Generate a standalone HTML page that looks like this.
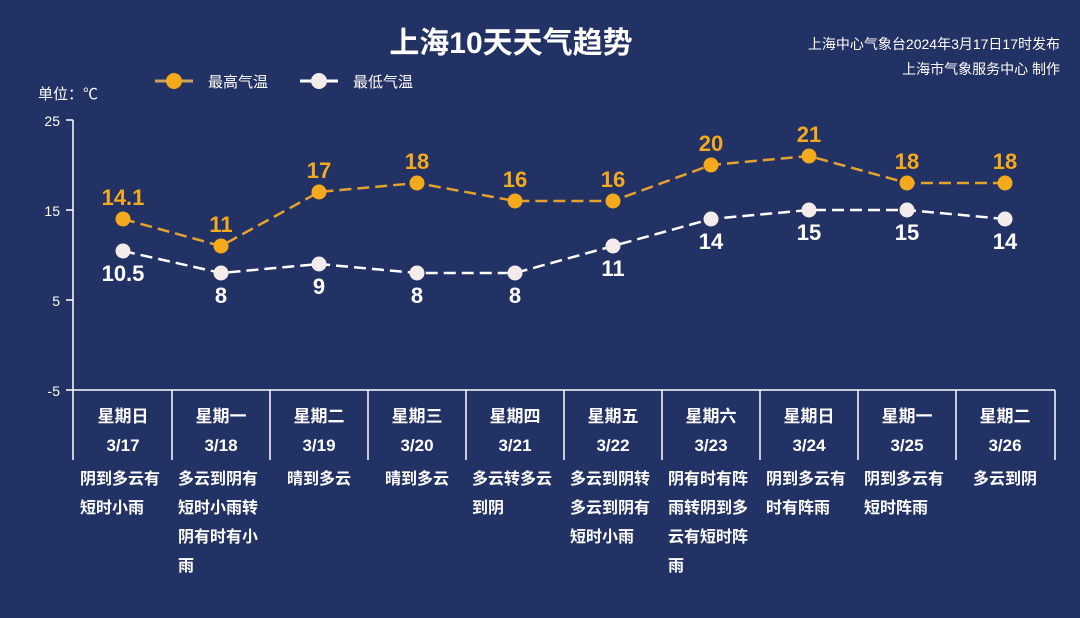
<!DOCTYPE html>
<html><head><meta charset="utf-8"><style>
body{margin:0;width:1080px;height:613px;background:#223265;overflow:hidden;font-family:"Liberation Sans","Noto Sans CJK SC",sans-serif}
svg text{font-family:"Liberation Sans","Noto Sans CJK SC",sans-serif}
</style></head><body>
<svg width="1080" height="613" xmlns="http://www.w3.org/2000/svg">
<rect width="1080" height="613" fill="#223265"/>
<text x="511" y="53" fill="#fff" font-size="30" font-weight="bold" text-anchor="middle">上海10天天气趋势</text>
<text x="1060" y="49" fill="#fff" font-size="14" text-anchor="end">上海中心气象台2024年3月17日17时发布</text>
<text x="1060" y="74" fill="#fff" font-size="14" text-anchor="end">上海市气象服务中心 制作</text>
<line x1="155" y1="81" x2="193" y2="81" stroke="#c9a45a" stroke-width="3"/><circle cx="174" cy="81" r="8" fill="#f5a91c"/>
<text x="208" y="87" fill="#fff" font-size="15">最高气温</text>
<line x1="300" y1="81" x2="338" y2="81" stroke="#fff" stroke-width="3"/><circle cx="319" cy="81" r="8" fill="#f3ecea"/>
<text x="353" y="87" fill="#fff" font-size="15">最低气温</text>
<text x="38" y="99" fill="#fff" font-size="15">单位：℃</text>
<g fill="#fff" font-size="14" text-anchor="end">
<text x="60" y="126">25</text><text x="60" y="216">15</text><text x="60" y="306">5</text><text x="60" y="396">-5</text></g>
<g stroke="#fff" stroke-width="1.5">
<line x1="73" y1="120" x2="73" y2="460"/>
<line x1="66" y1="120" x2="73" y2="120"/><line x1="66" y1="210" x2="73" y2="210"/><line x1="66" y1="300" x2="73" y2="300"/><line x1="66" y1="390" x2="1055" y2="390"/>
<line x1="172" y1="390" x2="172" y2="460"/><line x1="270" y1="390" x2="270" y2="460"/><line x1="368" y1="390" x2="368" y2="460"/><line x1="466" y1="390" x2="466" y2="460"/><line x1="564" y1="390" x2="564" y2="460"/><line x1="662" y1="390" x2="662" y2="460"/><line x1="760" y1="390" x2="760" y2="460"/><line x1="858" y1="390" x2="858" y2="460"/><line x1="956" y1="390" x2="956" y2="460"/><line x1="1055" y1="390" x2="1055" y2="460"/>
</g>
<polyline points="123,219 221,246 319,192 417,183 515,201 613,201 711,165 809,156 907,183 1005,183" fill="none" stroke="#e6a22e" stroke-width="2.5" stroke-dasharray="12,6"/>
<polyline points="123,251 221,273 319,264 417,273 515,273 613,246 711,219 809,210 907,210 1005,219" fill="none" stroke="#fff" stroke-width="2.5" stroke-dasharray="12,6"/>
<g fill="#f5a91c"><circle cx="123" cy="219" r="7.5"/><circle cx="221" cy="246" r="7.5"/><circle cx="319" cy="192" r="7.5"/><circle cx="417" cy="183" r="7.5"/><circle cx="515" cy="201" r="7.5"/><circle cx="613" cy="201" r="7.5"/><circle cx="711" cy="165" r="7.5"/><circle cx="809" cy="156" r="7.5"/><circle cx="907" cy="183" r="7.5"/><circle cx="1005" cy="183" r="7.5"/></g>
<g fill="#f3ecea"><circle cx="123" cy="251" r="7.5"/><circle cx="221" cy="273" r="7.5"/><circle cx="319" cy="264" r="7.5"/><circle cx="417" cy="273" r="7.5"/><circle cx="515" cy="273" r="7.5"/><circle cx="613" cy="246" r="7.5"/><circle cx="711" cy="219" r="7.5"/><circle cx="809" cy="210" r="7.5"/><circle cx="907" cy="210" r="7.5"/><circle cx="1005" cy="219" r="7.5"/></g>
<g fill="#f5a91c" font-size="22" font-weight="bold" text-anchor="middle">
<text x="123" y="205">14.1</text><text x="221" y="232">11</text><text x="319" y="178">17</text><text x="417" y="169">18</text><text x="515" y="187">16</text><text x="613" y="187">16</text><text x="711" y="151">20</text><text x="809" y="142">21</text><text x="907" y="169">18</text><text x="1005" y="169">18</text></g>
<g fill="#fff" font-size="22" font-weight="bold" text-anchor="middle">
<text x="123" y="281">10.5</text><text x="221" y="303">8</text><text x="319" y="294">9</text><text x="417" y="303">8</text><text x="515" y="303">8</text><text x="613" y="276">11</text><text x="711" y="249">14</text><text x="809" y="240">15</text><text x="907" y="240">15</text><text x="1005" y="249">14</text></g>
<g fill="#fff" font-size="17" font-weight="bold" text-anchor="middle">
<text x="123" y="422">星期日</text><text x="221" y="422">星期一</text><text x="319" y="422">星期二</text><text x="417" y="422">星期三</text><text x="515" y="422">星期四</text><text x="613" y="422">星期五</text><text x="711" y="422">星期六</text><text x="809" y="422">星期日</text><text x="907" y="422">星期一</text><text x="1005" y="422">星期二</text>
<text x="123" y="451">3/17</text><text x="221" y="451">3/18</text><text x="319" y="451">3/19</text><text x="417" y="451">3/20</text><text x="515" y="451">3/21</text><text x="613" y="451">3/22</text><text x="711" y="451">3/23</text><text x="809" y="451">3/24</text><text x="907" y="451">3/25</text><text x="1005" y="451">3/26</text></g>
<g fill="#fff" font-size="16" font-weight="bold">
<text x="80" y="484">阴到多云有</text><text x="80" y="513">短时小雨</text>
<text x="178" y="484">多云到阴有</text><text x="178" y="513">短时小雨转</text><text x="178" y="542">阴有时有小</text><text x="178" y="571">雨</text>
<text x="287" y="484">晴到多云</text>
<text x="385" y="484">晴到多云</text>
<text x="472" y="484">多云转多云</text><text x="472" y="513">到阴</text>
<text x="570" y="484">多云到阴转</text><text x="570" y="513">多云到阴有</text><text x="570" y="542">短时小雨</text>
<text x="668" y="484">阴有时有阵</text><text x="668" y="513">雨转阴到多</text><text x="668" y="542">云有短时阵</text><text x="668" y="571">雨</text>
<text x="766" y="484">阴到多云有</text><text x="766" y="513">时有阵雨</text>
<text x="864" y="484">阴到多云有</text><text x="864" y="513">短时阵雨</text>
<text x="973" y="484">多云到阴</text>
</g>
</svg>
</body></html>
